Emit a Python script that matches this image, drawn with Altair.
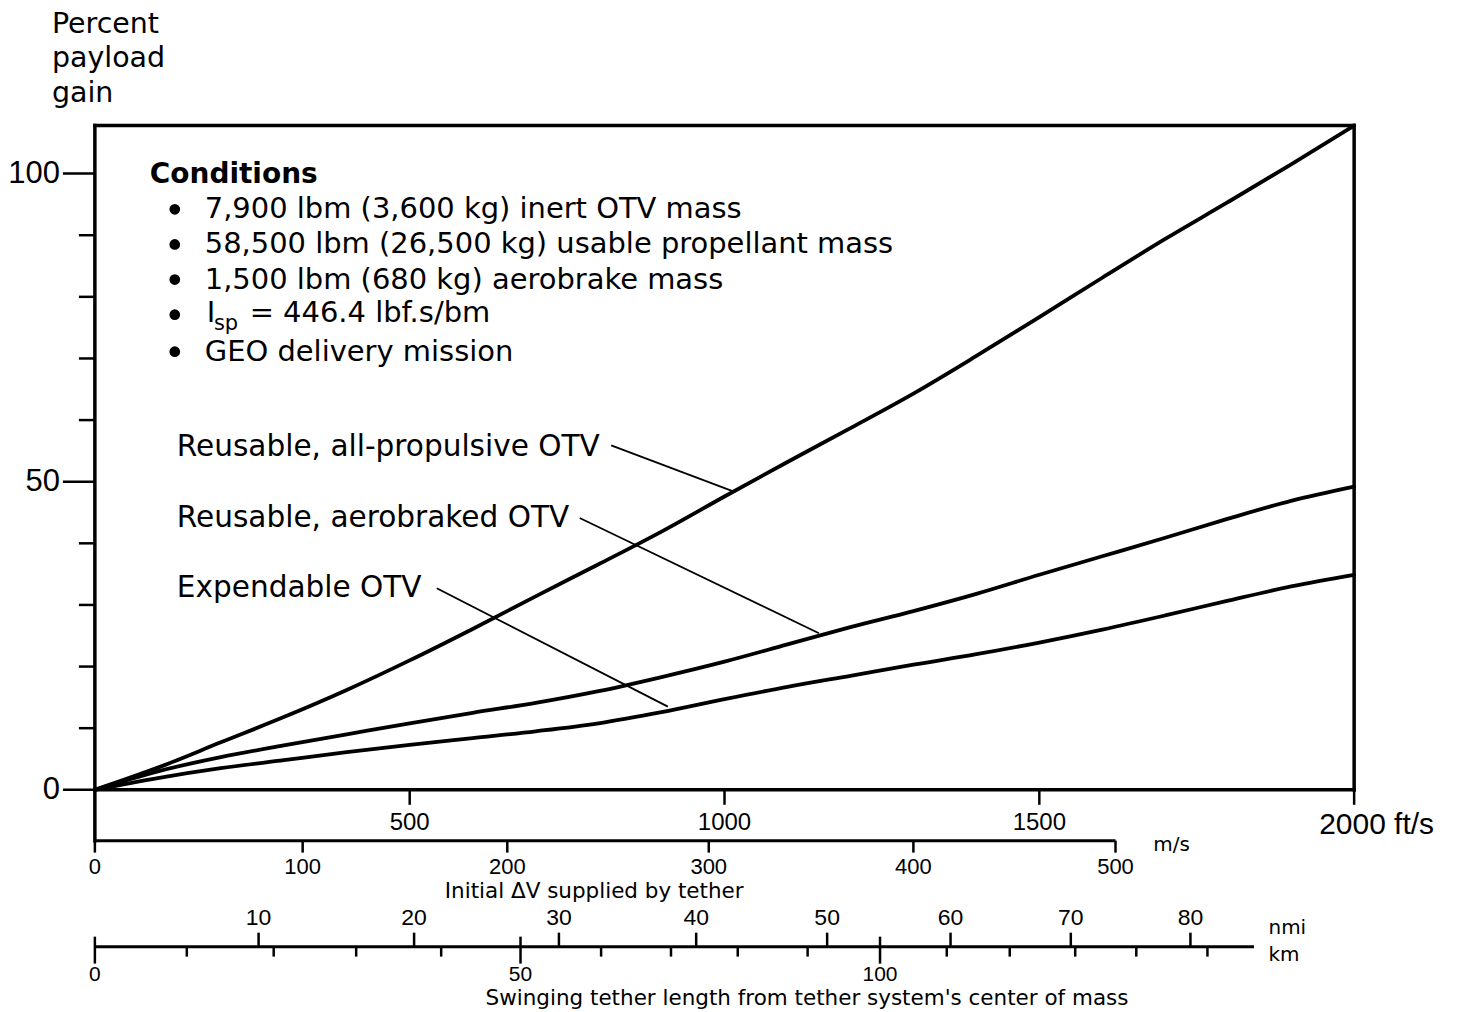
import altair as alt
import pandas as pd

# ---------------- data ----------------
speed_fts = [0, 100, 200, 300, 400, 500, 600, 700, 800, 900, 1000,
             1100, 1200, 1300, 1400, 1500, 1600, 1700, 1800, 1900, 2000]
gain_all_propulsive = [0, 3.6, 7.7, 11.8, 16.2, 21.0, 26.1, 31.4, 36.6, 41.9, 47.6,
                       53.2, 58.7, 64.3, 70.4, 76.7, 83.1, 89.4, 95.4, 101.5, 107.8]
gain_aerobraked = [0, 3.0, 5.3, 7.2, 9.0, 10.8, 12.5, 14.1, 16.0, 18.3, 20.8,
                   23.6, 26.4, 29.0, 31.8, 34.9, 37.9, 40.9, 44.0, 46.9, 49.2]
gain_expendable = [0, 1.9, 3.5, 4.8, 6.1, 7.3, 8.4, 9.5, 10.8, 12.6, 14.7,
                   16.7, 18.5, 20.3, 22.0, 23.9, 26.0, 28.3, 30.7, 33.0, 34.9]
series_names = ["Reusable, all-propulsive OTV", "Reusable, aerobraked OTV", "Expendable OTV"]

# y axis (percent payload gain)
y_ticks_minor = [10, 20, 30, 40, 60, 70, 80, 90]
y_ticks_major = [0, 50, 100]

# primary x axis, ft/s
fts_ticks = [500, 1000, 1500, 2000]
fts_labels = [500, 1000, 1500]

# m/s scale (tick positions expressed on the ft/s scale, as drawn)
ms_labels = ["0", "100", "200", "300", "400", "500"]
ms_pos_fts = [0, 330, 655, 975, 1300, 1621]

# tether length scale (positions expressed on the ft/s scale, as drawn)
nmi_labels = ["10", "20", "30", "40", "50", "60", "70", "80"]
nmi_pos_fts = [260, 507, 737, 955, 1163, 1359, 1550, 1740]
km_minor_pos_fts = [146, 284, 415, 550, 804, 915, 1021, 1132, 1353, 1453, 1557, 1654, 1767]
km_major_labels = ["0", "50", "100"]
km_major_pos_fts = [0, 676, 1247]
len_axis_end_fts = 1841

# layout anchors in data units
Y_TOP = 107.8
Y_BOTTOM = -34.0
MS_AXIS_Y = -8.25
LEN_AXIS_Y = -25.45
PX_PER_UNIT = 875 / (Y_TOP - Y_BOTTOM)

# annotations
title_lines = ["Percent", "payload", "gain"]
title_y = [124.3, 118.7, 113.0]
title_x = -68.2

cond_title = "Conditions"
cond_texts = ["7,900 lbm (3,600 kg) inert OTV mass",
              "58,500 lbm (26,500 kg) usable propellant mass",
              "1,500 lbm (680 kg) aerobrake mass",
              "GEO delivery mission"]
cond_text_y = [94.2, 88.5, 82.8, 71.1]
bullet_y = [94.2, 88.5, 82.8, 77.1, 71.1]
isp_y = 77.4

label_y = [55.6, 44.1, 32.7]
label_x = 130.2
leader_x = [820, 770, 543]
leader_y = [55.9, 44.1, 32.7]
leader_x2 = [1017, 1150, 910]
leader_y2 = [48.3, 25.4, 13.5]

# ---------------- chart ----------------
xs = alt.Scale(domain=[0, 2000], nice=False, zero=False)
ys = alt.Scale(domain=[Y_BOTTOM, Y_TOP], nice=False, zero=False)


def ex(f):
    return alt.X(f"{f}:Q", scale=xs, axis=None)


def ey(f):
    return alt.Y(f"{f}:Q", scale=ys, axis=None)


WORD = "DejaVu Sans"
NUM = "Liberation Sans"

curves = pd.DataFrame({
    "speed": speed_fts * 3,
    "gain": gain_all_propulsive + gain_aerobraked + gain_expendable,
    "series": [series_names[0]] * len(speed_fts) + [series_names[1]] * len(speed_fts)
              + [series_names[2]] * len(speed_fts),
})
lines = alt.Chart(curves).mark_line(
    color="black", strokeWidth=3.8, interpolate="monotone", strokeCap="round", strokeJoin="round"
).encode(x=ex("speed"), y=ey("gain"), detail="series:N")

frame_df = pd.DataFrame({
    "x": [0, 0, 0, 2000], "x2": [2000, 2000, 0, 2000],
    "y": [Y_TOP, 0, Y_TOP, Y_TOP], "y2": [Y_TOP, 0, MS_AXIS_Y, 0],
})
frame = alt.Chart(frame_df).mark_rule(color="black", strokeWidth=3.5, strokeCap="square").encode(
    x=ex("x"), x2="x2:Q", y=ey("y"), y2="y2:Q")

# y axis ticks / labels
yminor = alt.Chart(pd.DataFrame({"v": y_ticks_minor})).mark_rule(color="black", strokeWidth=2.5).encode(
    y=ey("v"), x=alt.value(0), x2=alt.value(-16))
ymajor = alt.Chart(pd.DataFrame({"v": y_ticks_major})).mark_rule(color="black", strokeWidth=2.5).encode(
    y=ey("v"), x=alt.value(0), x2=alt.value(-32))
ylab = alt.Chart(pd.DataFrame({"v": y_ticks_major, "t": [str(v) for v in y_ticks_major]})).mark_text(
    font=NUM, fontSize=31, align="right", baseline="middle", color="black").encode(
    y=ey("v"), x=alt.value(-35), text="t:N")

# ft/s axis
fts_tick = alt.Chart(pd.DataFrame({"x": fts_ticks, "y": [0] * len(fts_ticks)})).mark_rule(
    color="black", strokeWidth=2.5, y2Offset=15).encode(x=ex("x"), y=ey("y"), y2="y:Q")
fts_lab = alt.Chart(pd.DataFrame({"x": fts_labels, "y": [0] * len(fts_labels),
                                  "t": [str(v) for v in fts_labels]})).mark_text(
    font=NUM, fontSize=24, align="center", baseline="middle", dy=33, color="black").encode(
    x=ex("x"), y=ey("y"), text="t:N")
fts_end = alt.Chart(pd.DataFrame({"x": [2000], "y": [0], "t": ["2000 ft/s"]})).mark_text(
    font=NUM, fontSize=30, align="left", baseline="middle", dx=-35, dy=35, color="black").encode(
    x=ex("x"), y=ey("y"), text="t:N")

# m/s axis
ms_line = alt.Chart(pd.DataFrame({"x": [0], "x2": [ms_pos_fts[-1]], "y": [MS_AXIS_Y]})).mark_rule(
    color="black", strokeWidth=3).encode(x=ex("x"), x2="x2:Q", y=ey("y"))
ms_df = pd.DataFrame({"x": ms_pos_fts, "y": [MS_AXIS_Y] * len(ms_pos_fts), "t": ms_labels})
ms_tick = alt.Chart(ms_df).mark_rule(color="black", strokeWidth=2.5, y2Offset=12).encode(
    x=ex("x"), y=ey("y"), y2="y:Q")
ms_lab = alt.Chart(ms_df).mark_text(font=NUM, fontSize=22, align="center", baseline="middle",
                                    dy=26, color="black").encode(x=ex("x"), y=ey("y"), text="t:N")
ms_unit = alt.Chart(pd.DataFrame({"x": [1681], "y": [MS_AXIS_Y], "t": ["m/s"]})).mark_text(
    font=WORD, fontSize=20, align="left", baseline="middle", dy=4, color="black").encode(
    x=ex("x"), y=ey("y"), text="t:N")
dv_title = alt.Chart(pd.DataFrame({"x": [793], "y": [-16.6], "t": ["Initial \u0394V supplied by tether"]})).mark_text(
    font=WORD, fontSize=21.5, align="center", baseline="middle", color="black").encode(
    x=ex("x"), y=ey("y"), text="t:N")

# tether length axis
len_line = alt.Chart(pd.DataFrame({"x": [0], "x2": [len_axis_end_fts], "y": [LEN_AXIS_Y]})).mark_rule(
    color="black", strokeWidth=3).encode(x=ex("x"), x2="x2:Q", y=ey("y"))
nmi_df = pd.DataFrame({"x": nmi_pos_fts, "y": [LEN_AXIS_Y] * len(nmi_pos_fts), "t": nmi_labels})
nmi_tick = alt.Chart(nmi_df).mark_rule(color="black", strokeWidth=2.5, y2Offset=-14).encode(
    x=ex("x"), y=ey("y"), y2="y:Q")
nmi_lab = alt.Chart(nmi_df).mark_text(font=NUM, fontSize=23, align="center", baseline="middle",
                                      dy=-29, color="black").encode(x=ex("x"), y=ey("y"), text="t:N")
km_minor = alt.Chart(pd.DataFrame({"x": km_minor_pos_fts, "y": [LEN_AXIS_Y] * len(km_minor_pos_fts)})).mark_rule(
    color="black", strokeWidth=2.5, y2Offset=10).encode(x=ex("x"), y=ey("y"), y2="y:Q")
km_df = pd.DataFrame({"x": km_major_pos_fts, "y": [LEN_AXIS_Y] * len(km_major_pos_fts), "t": km_major_labels})
km_major = alt.Chart(km_df).mark_rule(color="black", strokeWidth=2.5, yOffset=-10, y2Offset=17).encode(
    x=ex("x"), y=ey("y"), y2="y:Q")
km_lab = alt.Chart(km_df).mark_text(font=NUM, fontSize=21, align="center", baseline="middle",
                                    dy=28, color="black").encode(x=ex("x"), y=ey("y"), text="t:N")
len_units = alt.Chart(pd.DataFrame({"x": [1864, 1864], "y": [LEN_AXIS_Y, LEN_AXIS_Y],
                                    "d": [-19, 8], "t": ["nmi", "km"]})).transform_calculate(
    yy=f"datum.y - datum.d / {PX_PER_UNIT}").mark_text(
    font=WORD, fontSize=20, align="left", baseline="middle", color="black").encode(
    x=ex("x"), y=ey("yy"), text="t:N")
len_title = alt.Chart(pd.DataFrame({"x": [1131], "y": [-33.95],
                                    "t": ["Swinging tether length from tether system's center of mass"]})).mark_text(
    font=WORD, fontSize=21.5, align="center", baseline="middle", color="black").encode(
    x=ex("x"), y=ey("y"), text="t:N")

# y title
ytitle = alt.Chart(pd.DataFrame({"x": [title_x] * 3, "y": title_y, "t": title_lines})).mark_text(
    font=WORD, fontSize=28.5, align="left", baseline="middle", color="black").encode(
    x=ex("x"), y=ey("y"), text="t:N")

# conditions box
cond_head = alt.Chart(pd.DataFrame({"x": [87.2], "y": [99.8], "t": [cond_title]})).mark_text(
    font=WORD, fontSize=28, fontWeight="bold", align="left", baseline="middle", color="black").encode(
    x=ex("x"), y=ey("y"), text="t:N")
bullets = alt.Chart(pd.DataFrame({"x": [126.9] * len(bullet_y), "y": bullet_y})).mark_circle(
    color="black", opacity=1, size=115).encode(x=ex("x"), y=ey("y"))
cond_body = alt.Chart(pd.DataFrame({"x": [174.5] * len(cond_texts), "y": cond_text_y, "t": cond_texts})).mark_text(
    font=WORD, fontSize=29, align="left", baseline="middle", color="black").encode(
    x=ex("x"), y=ey("y"), text="t:N")
isp_main = alt.Chart(pd.DataFrame({"x": [177.6, 245.8], "y": [isp_y, isp_y],
                                   "t": ["I", "=  446.4 lbf.s/bm"]})).mark_text(
    font=WORD, fontSize=29, align="left", baseline="middle", color="black").encode(
    x=ex("x"), y=ey("y"), text="t:N")
isp_sub = alt.Chart(pd.DataFrame({"x": [189.0], "y": [isp_y - 1.8], "t": ["sp"]})).mark_text(
    font=WORD, fontSize=21, align="left", baseline="middle", color="black").encode(
    x=ex("x"), y=ey("y"), text="t:N")

# curve labels and leader lines
lab = alt.Chart(pd.DataFrame({"x": [label_x] * 3, "y": label_y, "t": series_names})).mark_text(
    font=WORD, fontSize=29.6, align="left", baseline="middle", color="black").encode(
    x=ex("x"), y=ey("y"), text="t:N")
leaders = alt.Chart(pd.DataFrame({"x": leader_x, "y": leader_y, "x2": leader_x2, "y2": leader_y2})).mark_rule(
    color="black", strokeWidth=1.8).encode(x=ex("x"), x2="x2:Q", y=ey("y"), y2="y2:Q")

chart = alt.layer(
    frame, lines, leaders,
    yminor, ymajor, ylab,
    fts_tick, fts_lab, fts_end,
    ms_line, ms_tick, ms_lab, ms_unit, dv_title,
    len_line, nmi_tick, nmi_lab, km_minor, km_major, km_lab, len_units, len_title,
    ytitle, cond_head, bullets, cond_body, isp_main, isp_sub, lab,
).properties(
    width=1261, height=875,
    padding={"left": 87, "top": 117, "right": 100, "bottom": 12},
    autosize=alt.AutoSizeParams(type="none"),
    background="white",
).configure_view(stroke=None)

chart.save("out.html", embed_options={"renderer": "svg", "actions": False})
